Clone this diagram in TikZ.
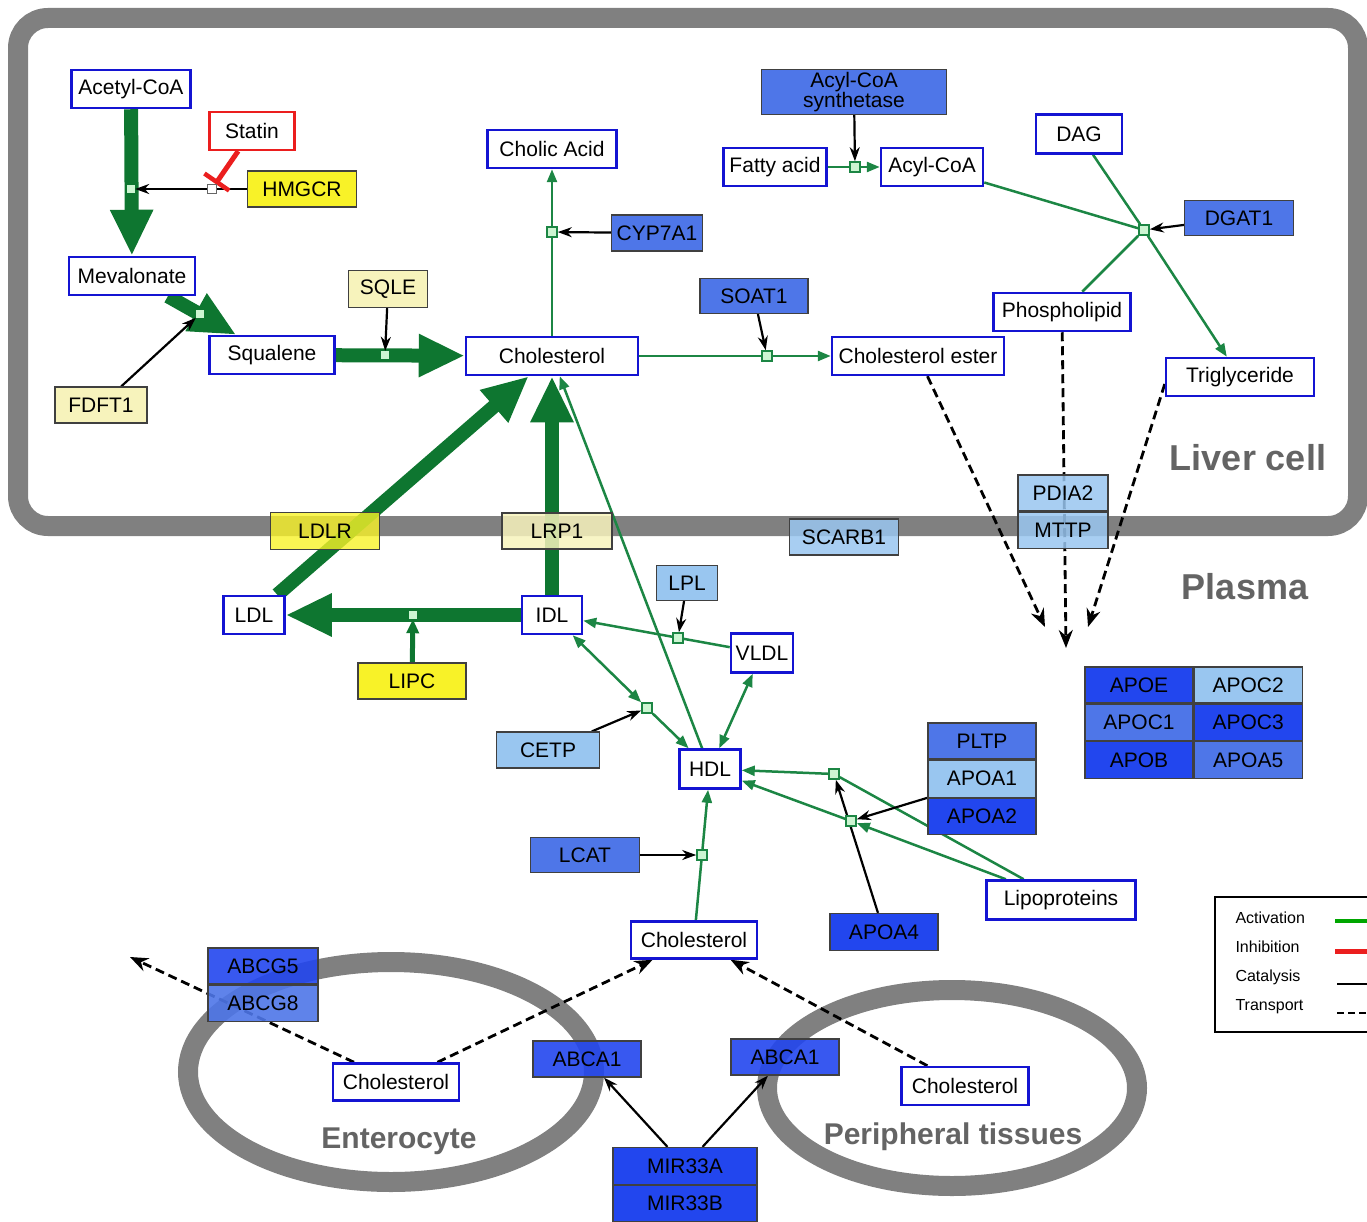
\documentclass[tikz,border=0pt]{standalone}
\usepackage{fontspec}
\setmainfont{Liberation Sans}
\usetikzlibrary{arrows.meta,positioning,backgrounds}
\definecolor{metblue}{RGB}{20,20,210}
\definecolor{protdark}{RGB}{34,70,238}
\definecolor{protmid}{RGB}{78,118,232}
\definecolor{protlight}{RGB}{153,198,240}
\definecolor{yelbright}{RGB}{248,242,40}
\definecolor{yelpale}{RGB}{247,243,188}
\definecolor{thickgreen}{RGB}{14,118,48}
\definecolor{thingreen}{RGB}{28,134,68}
\definecolor{anchfill}{RGB}{205,245,210}
\definecolor{wallgray}{RGB}{128,128,128}
\definecolor{labelgray}{RGB}{100,100,100}
\definecolor{inhred}{RGB}{235,30,30}
\newcommand{\boxfont}{\fontsize{21}{21}\selectfont}
\newcommand{\regionfont}{\fontsize{36}{40}\selectfont\bfseries}
\newcommand{\cellfont}{\fontsize{30}{34}\selectfont\bfseries}
\newcommand{\legfont}{\fontsize{16}{18}\selectfont}

\begin{document}
\begin{tikzpicture}[x=1pt, y=-1pt, line join=miter, font=\boxfont]
	\tikzset{met/.style={draw=metblue, line width=2.5pt, fill=white, inner sep=0pt, minimum height=38pt},
		gene/.style={draw=black!75, line width=1.2pt, inner sep=0pt, minimum height=36pt},
		dark/.style={gene, fill=protdark},
		mid/.style={gene, fill=protmid},
		light/.style={gene, fill=protlight},
		yel/.style={gene, fill=yelbright},
		pale/.style={gene, fill=yelpale},
		anch/.style={draw=thingreen, fill=anchfill, line width=1.6pt, minimum size=10pt, inner sep=0pt},
		anchthick/.style={fill=anchfill, minimum size=8pt, inner sep=0pt},
		hmgsq/.style={draw=black!60, fill=white, line width=1.2pt, minimum size=9pt, inner sep=0pt},
		region/.style={text=labelgray},
		wall/.style={draw=wallgray, line width=20pt},
		thickact/.style={draw=thickgreen, line width=14pt, -{Triangle[length=46pt,width=40pt]}},
		act/.style={draw=thingreen, line width=2.5pt, -{Triangle[length=13pt,width=10pt]}},
		actboth/.style={draw=thingreen, line width=2.5pt, {Triangle[length=13pt,width=10pt]}-{Triangle[length=13pt,width=10pt]}},
		actline/.style={draw=thingreen, line width=2.5pt},
		lipcact/.style={draw=thickgreen, line width=5pt, -{Triangle[length=14pt,width=12pt]}},
		cat/.style={draw=black, line width=2.2pt, -{Stealth[length=14pt,width=10pt]}},
		inh/.style={draw=inhred, line width=5pt, -{Bar[width=30pt,line width=4.5pt]}},
		tra/.style={draw=black, line width=2.8pt, dash pattern=on 9pt off 5pt, -{Stealth[length=18pt,width=14pt]}}}
	\useasboundingbox (0,0) rectangle (1367,1222);

	% metabolites
	\node[met, minimum width=119pt] (acetylcoa) at (131,89) {Acetyl-CoA};
	\node[met, minimum width=126pt] (mevalonate) at (132,276) {Mevalonate};
	\node[met, minimum width=125pt] (squalene) at (272,355) {Squalene};
	\node[met, minimum width=172pt] (cholliver) at (552,356) {Cholesterol};
	\node[met, minimum width=129pt] (cholicacid) at (552,149) {Cholic Acid};
	\node[met, minimum width=172pt] (cholester) at (918,356) {Cholesterol ester};
	\node[met, minimum width=103pt] (fattyacid) at (775,167) {Fatty acid};
	\node[met, minimum width=102pt] (acylcoa) at (932,167) {Acyl-CoA};
	\node[met, minimum width=86pt, minimum height=39pt] (dag) at (1079,134) {DAG};
	\node[met, minimum width=137pt] (phospho) at (1062,312) {Phospholipid};
	\node[met, minimum width=148pt] (trig) at (1240,377) {Triglyceride};
	\node[met, minimum width=61pt] (ldl) at (254,615) {LDL};
	\node[met, minimum width=60pt] (idl) at (552,615) {IDL};
	\node[met, minimum width=62pt, minimum height=39pt] (vldl) at (762,653) {VLDL};
	\node[met, minimum width=61pt, minimum height=39pt] (hdl) at (710,769) {HDL};
	\node[met, minimum width=149pt, minimum height=39pt] (lipo) at (1061,900) {Lipoproteins};
	\node[met, minimum width=126pt, minimum height=37pt] (cholplasma) at (694,940) {Cholesterol};
	\node[met, minimum width=126pt, minimum height=37pt] (cholentero) at (396,1082) {Cholesterol};
	\node[met, minimum width=127pt] (cholperiph) at (965,1086) {Cholesterol};
	\node[draw=inhred, line width=2.2pt, fill=white, minimum width=85pt, minimum height=38pt, inner sep=0pt] (statin) at (252,131) {Statin};

	% enzymes and carriers
	\node[yel, minimum width=109pt] (hmgcr) at (302,189) {HMGCR};
	\node[pale, minimum width=79pt, minimum height=37pt] (sqle) at (388,289) {SQLE};
	\node[pale, minimum width=92pt] (fdft) at (101,405) {FDFT1};
	\node[mid, minimum width=91pt] (cyp) at (657,233) {CYP7A1};
	\node[mid, minimum width=108pt, minimum height=35pt] (soat) at (754,296) {SOAT1};
	\node[mid, minimum width=185pt, minimum height=45pt, align=center, font=\fontsize{21}{19}\selectfont] (acylsyn) at (854,92) {Acyl-CoA\\synthetase};
	\node[mid, minimum width=109pt, minimum height=35pt] (dgat) at (1239,218) {DGAT1};
	\node[light, minimum width=90pt, fill opacity=0.85, text opacity=1] (pdia) at (1063,493) {PDIA2};
	\node[light, minimum width=90pt, fill opacity=0.85, text opacity=1, below=0pt of pdia] (mttp) {MTTP};
	\node[light, minimum width=109pt, fill opacity=0.85, text opacity=1] (scarb) at (844,537) {SCARB1};
	\node[yel, minimum width=109pt, minimum height=37pt, fill opacity=0.8, text opacity=1] (ldlr) at (325,531) {LDLR};
	\node[pale, minimum width=110pt, fill opacity=0.85, text opacity=1] (lrp) at (557,531) {LRP1};
	\node[light, minimum width=61pt, minimum height=35pt] (lpl) at (687,583) {LPL};
	\node[yel, minimum width=108pt] (lipc) at (412,681) {LIPC};
	\node[light, minimum width=103pt] (cetp) at (548,750) {CETP};
	\node[mid, minimum width=108pt] (pltp) at (982,741) {PLTP};
	\node[light, minimum width=108pt, minimum height=37pt, below=0pt of pltp] (apoaone) {APOA1};
	\node[dark, minimum width=108pt, below=0pt of apoaone] (apoatwo) {APOA2};
	\node[dark, minimum width=108pt] (apoe) at (1139,685) {APOE};
	\node[light, minimum width=108pt, right=0pt of apoe] (apoctwo) {APOC2};
	\node[mid, minimum width=108pt, below=0pt of apoe] (apocone) {APOC1};
	\node[dark, minimum width=108pt, right=0pt of apocone] (apocthree) {APOC3};
	\node[dark, minimum width=108pt, minimum height=37pt, below=0pt of apocone] (apob) {APOB};
	\node[mid, minimum width=108pt, minimum height=37pt, right=0pt of apob] (apoafive) {APOA5};
	\node[mid, minimum width=109pt, minimum height=35pt] (lcat) at (585,855) {LCAT};
	\node[dark, minimum width=108pt, minimum height=37pt] (apoafour) at (884,932) {APOA4};
	\node[dark, minimum width=110pt, fill opacity=0.9, text opacity=1] (abcgfive) at (263,966) {ABCG5};
	\node[mid, minimum width=110pt, fill opacity=0.9, text opacity=1, below=0pt of abcgfive] (abcgeight) {ABCG8};
	\node[dark, minimum width=108pt, fill opacity=0.9, text opacity=1] (abcaleft) at (587,1059) {ABCA1};
	\node[dark, minimum width=108pt, fill opacity=0.9, text opacity=1] (abcaright) at (785,1057) {ABCA1};
	\node[dark, minimum width=144pt, minimum height=37pt] (mira) at (685,1166) {MIR33A};
	\node[dark, minimum width=144pt, below=0pt of mira] (mirb) {MIR33B};

	% reaction points
	\node[anchthick] (pAcetyl) at (131,189) {};
	\node[anchthick] (pMev) at (200,314) {};
	\node[anchthick] (pSqu) at (385,355) {};
	\node[anchthick] (pLdl) at (413,615) {};
	\node[hmgsq] (pHmg) at (212,189) {};
	\node[anch] (pCholic) at (552,232) {};
	\node[anch] (pEster) at (767,356) {};
	\node[anch] (pAcyl) at (855,167) {};
	\node[anch] (pDgat) at (1144,230) {};
	\node[anch] (pVldl) at (678,638) {};
	\node[anch] (pCetp) at (647,708) {};
	\node[anch] (pHdlA) at (834,774) {};
	\node[anch] (pHdlB) at (851,821) {};
	\node[anch] (pLcat) at (702,855) {};
	\coordinate (sinkA) at (1045,627);
	\coordinate (sinkB) at (1066,648);
	\coordinate (sinkC) at (1088,627);
	\coordinate (efflux) at (130,957);

	% compartments
	\node[region, font=\regionfont] (lblliver) at (1248,458) {Liver cell};
	\node[region, font=\regionfont] (lblplasma) at (1245,587) {Plasma};
	\node[region, font=\cellfont] (lblentero) at (399,1141) {Enterocyte};
	\node[region, font=\cellfont] (lblperiph) at (953,1137) {Peripheral tissues};

	% legend
	\draw[line width=2pt] (1368,897) -- (1215,897) -- (1215,1032) -- (1368,1032);
	\node[anchor=west, font=\legfont] (legact) at (1232,918) {Activation};
	\node[anchor=west, font=\legfont] (leginh) at (1232,947) {Inhibition};
	\node[anchor=west, font=\legfont] (legcat) at (1232,977) {Catalysis};
	\node[anchor=west, font=\legfont] (legtra) at (1232,1007) {Transport};
	\coordinate (lgA) at (1335,921); \coordinate (lgAe) at (1368,921);
	\coordinate (lgI) at (1335,951); \coordinate (lgIe) at (1368,951);
	\coordinate (lgC) at (1337,984); \coordinate (lgCe) at (1368,984);
	\coordinate (lgT) at (1337,1013); \coordinate (lgTe) at (1368,1013);
	\draw[draw=green!65!black, line width=4pt] (lgA) -- (lgAe);
	\draw[draw=inhred, line width=5pt] (lgI) -- (lgIe);
	\draw[line width=2pt] (lgC) -- (lgCe);
	\draw[line width=2.5pt, dash pattern=on 7pt off 4pt] (lgT) -- (lgTe);

	\begin{scope}[on background layer]
		\draw[wall, rounded corners=30pt] (18,18) rectangle (1358,526);
		\draw[wall] (391,1072) ellipse [x radius=203pt, y radius=110pt];
		\draw[wall] (952,1088) ellipse [x radius=185pt, y radius=98pt];

		\draw[thickact] (acetylcoa) -- (mevalonate);
		\draw[thickact] (mevalonate) -- (squalene);
		\draw[thickact] (squalene) -- (cholliver);
		\draw[thickact] (ldl) -- (cholliver);
		\draw[thickact] (idl) -- (cholliver);
		\draw[thickact] (idl) -- (ldl);
		\draw[cat] (hmgcr) -- (pAcetyl);
		\draw[inh] (statin) -- (pHmg);
		\draw[cat] (fdft) -- (pMev);
		\draw[cat] (sqle) -- (pSqu);
		\draw[act] (cholliver) -- (cholicacid);
		\draw[cat] (cyp) -- (pCholic);
		\draw[act] (cholliver) -- (cholester);
		\draw[cat] (soat) -- (pEster);
		\draw[act] (fattyacid) -- (acylcoa);
		\draw[cat] (acylsyn) -- (pAcyl);
		\draw[actline] (acylcoa) -- (pDgat);
		\draw[actline] (dag) -- (pDgat);
		\draw[actline] (phospho) -- (pDgat);
		\draw[act] (pDgat) -- (trig);
		\draw[cat] (dgat) -- (pDgat);
		\draw[tra] (cholester) -- (sinkA);
		\draw[tra] (phospho) -- (sinkB);
		\draw[tra] ([yshift=-7pt]trig.west) -- (sinkC);

		\draw[act] (hdl) -- (cholliver);
		\draw[act] (vldl) -- (idl);
		\draw[cat] (lpl) -- (pVldl);
		\draw[lipcact] (lipc) -- (pLdl);
		\draw[actboth] (idl) -- (pCetp);
		\draw[act] (pCetp) -- (hdl);
		\draw[cat] (cetp) -- (pCetp);
		\draw[actboth] (vldl) -- (hdl);
		\draw[act] (pHdlA) -- (hdl);
		\draw[act] (pHdlB) -- (hdl);
		\draw[actline] (lipo) -- (pHdlA);
		\draw[act] (lipo) -- (pHdlB);
		\draw[cat] (apoafour) -- (pHdlA);
		\draw[cat] (apoaone.south west) -- (pHdlB);
		\draw[act] (cholplasma) -- (hdl);
		\draw[cat] (lcat) -- (pLcat);

		\draw[tra] (cholentero) -- (efflux);
		\draw[tra] (cholentero) -- (cholplasma);
		\draw[tra] (cholperiph) -- (cholplasma);
		\draw[cat] (mira) -- (abcaleft);
		\draw[cat] (mira) -- (abcaright);
	\end{scope}
\end{tikzpicture}
\end{document}
